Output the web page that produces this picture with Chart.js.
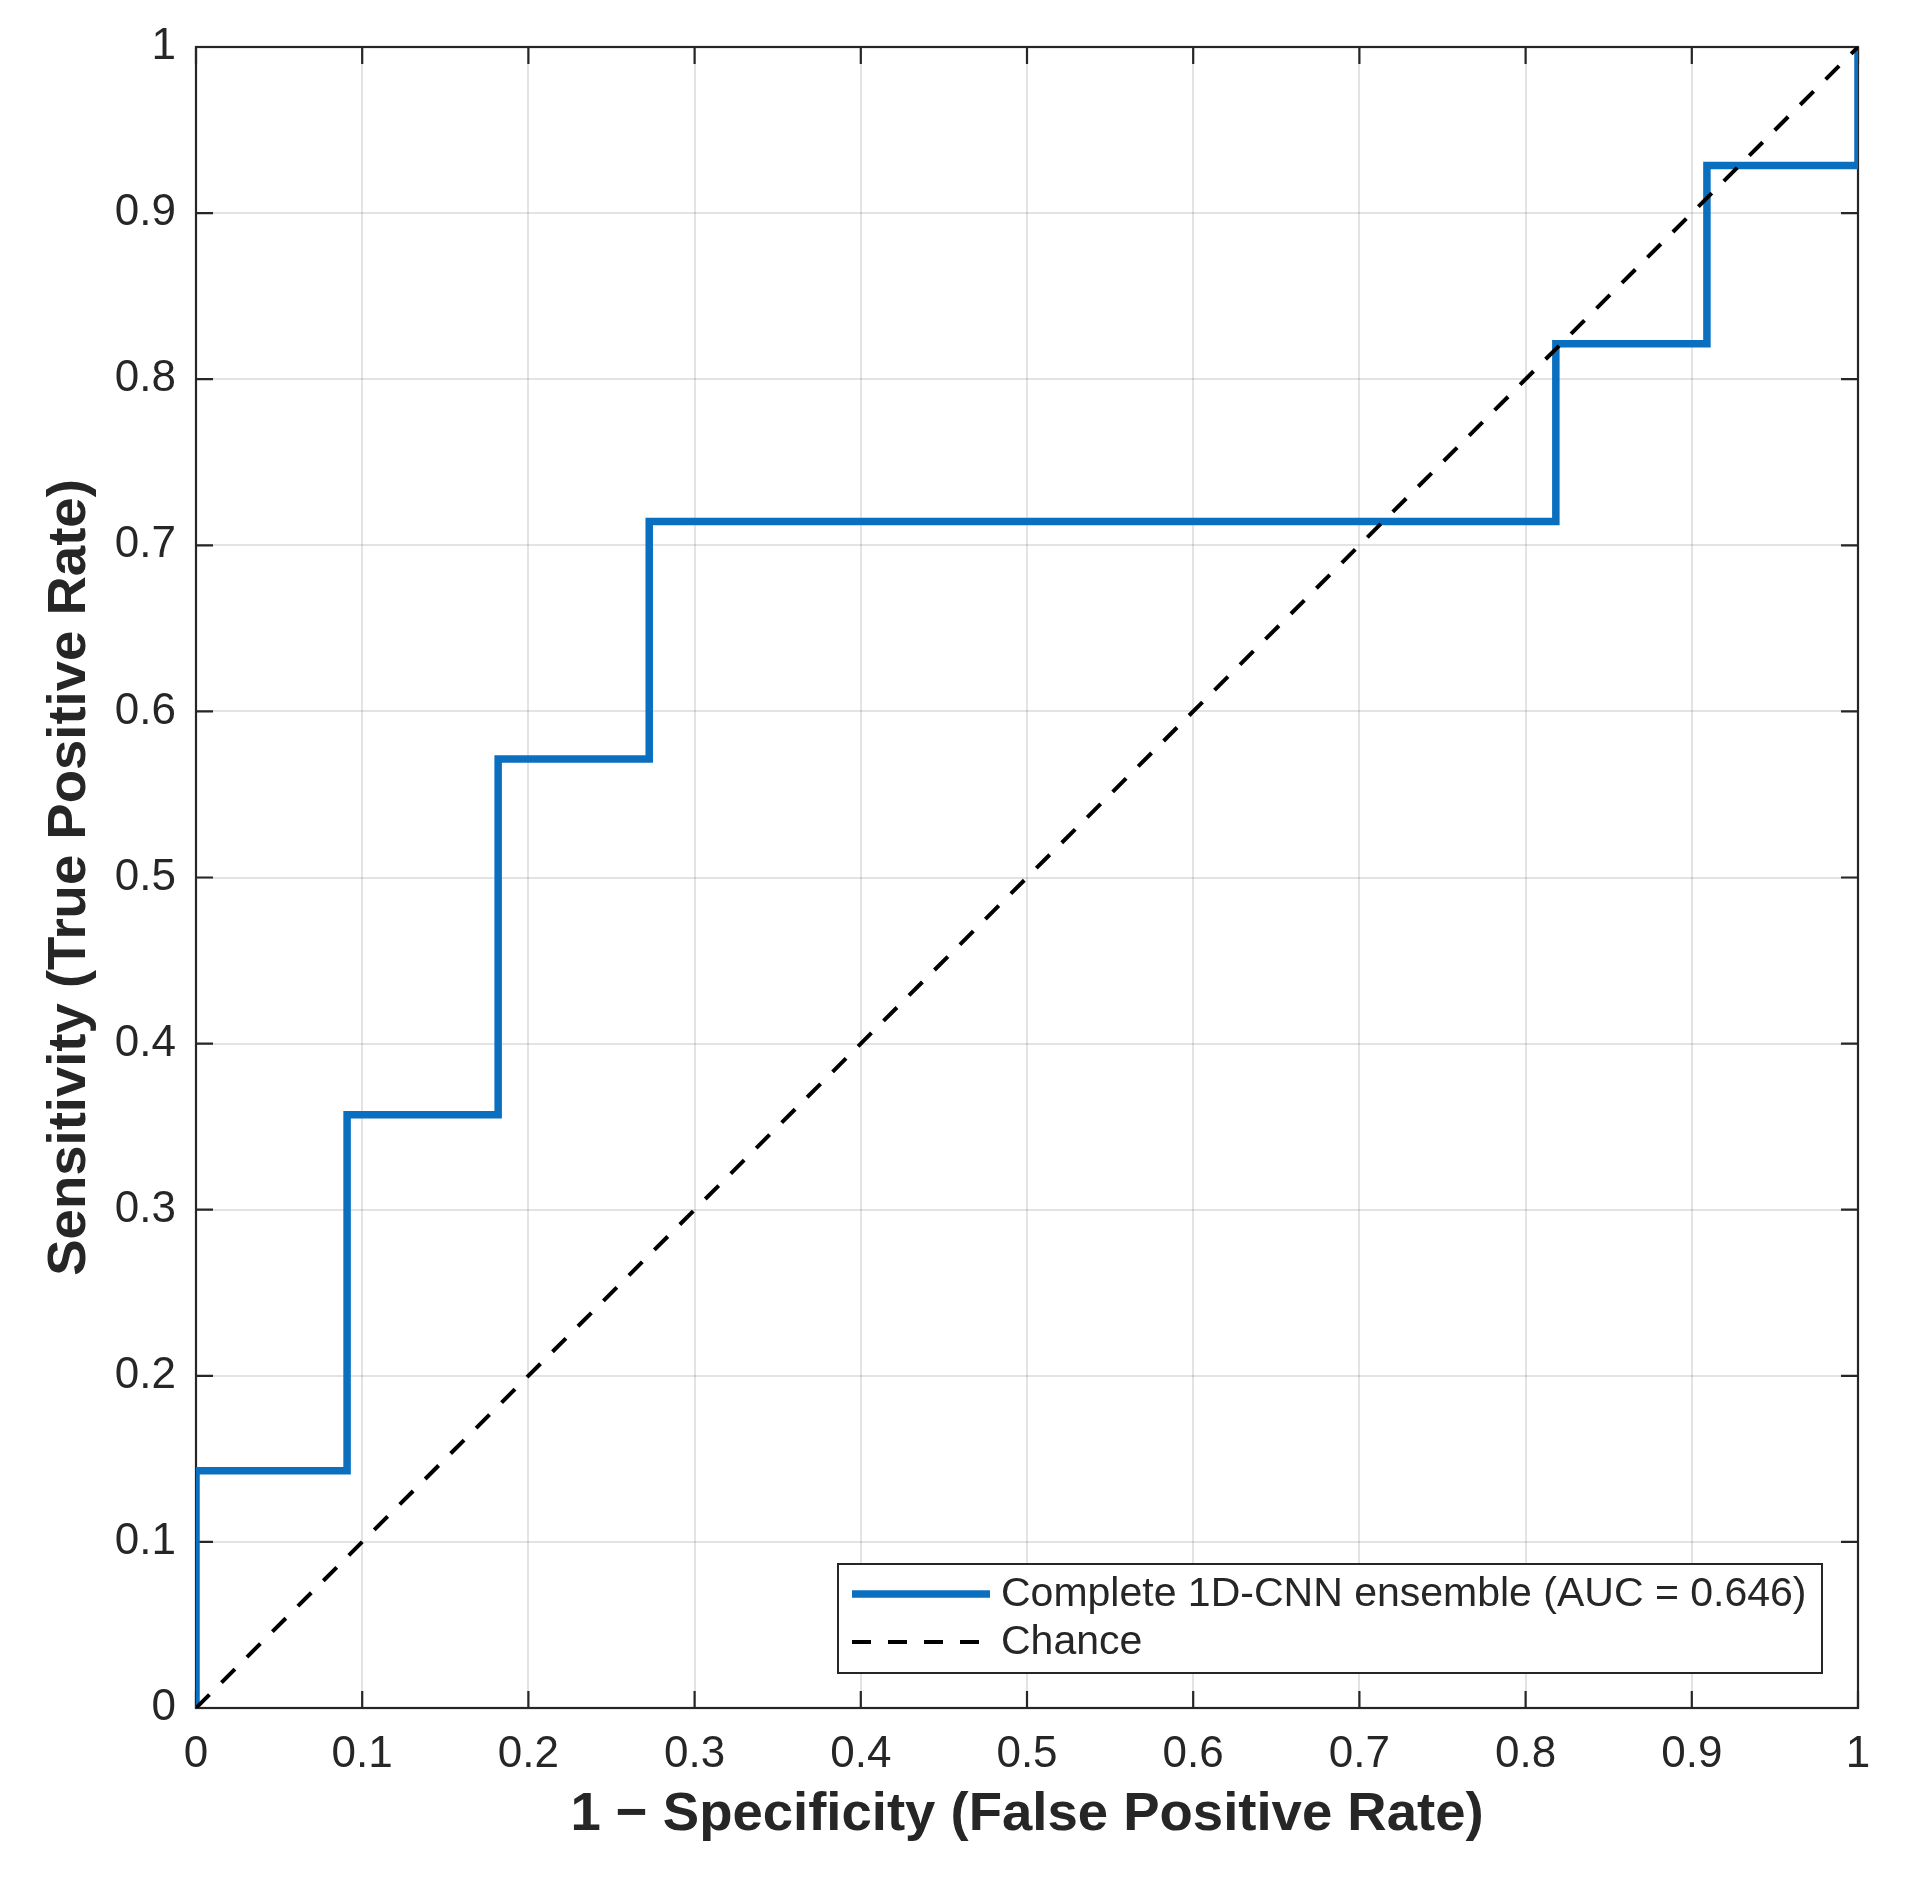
<!DOCTYPE html>
<html>
<head>
<meta charset="utf-8">
<script src="https://cdn.jsdelivr.net/npm/chart.js@4.4.1/dist/chart.umd.min.js"></script>
<style>
  html, body { margin: 0; padding: 0; background: #ffffff; }
  #wrap { width: 1909px; height: 1879px; }
</style>
</head>
<body>
<div id="wrap"><canvas id="c" width="1909" height="1879"></canvas></div>
<script>
// ---- Data ----
const rocLabel = 'Complete 1D-CNN ensemble (AUC = 0.646)';
const rocFpr = [0, 0, 0.0909, 0.0909, 0.1818, 0.1818, 0.2727, 0.2727, 0.8182, 0.8182, 0.9091, 0.9091, 1, 1];
const rocTpr = [0, 0.1429, 0.1429, 0.3571, 0.3571, 0.5714, 0.5714, 0.7143, 0.7143, 0.8214, 0.8214, 0.9286, 0.9286, 1];
const chanceLabel = 'Chance';
const chanceX = [0, 1];
const chanceY = [0, 1];
const xTickLabels = ['0', '0.1', '0.2', '0.3', '0.4', '0.5', '0.6', '0.7', '0.8', '0.9', '1'];
const yTickLabels = ['0', '0.1', '0.2', '0.3', '0.4', '0.5', '0.6', '0.7', '0.8', '0.9', '1'];
const xTitle = '1 \u2212 Specificity (False Positive Rate)';
const yTitle = 'Sensitivity (True Positive Rate)';

const AXIS = '#262626';
const FONT = "'Liberation Sans', Arial, Helvetica, sans-serif";

const toPoints = (xs, ys) => xs.map((x, i) => ({ x: x, y: ys[i] }));

const boxPlugin = {
  id: 'matlabBox',
  beforeDatasetsDraw(chart) {
    const { ctx, chartArea: a, scales } = chart;
    ctx.save();
    ctx.strokeStyle = AXIS;
    ctx.lineWidth = 2.2;
    ctx.strokeRect(a.left, a.top, a.right - a.left, a.bottom - a.top);
    const tl = 17;
    ctx.beginPath();
    scales.x.ticks.forEach(t => {
      const px = scales.x.getPixelForValue(t.value);
      ctx.moveTo(px, a.bottom); ctx.lineTo(px, a.bottom - tl);
      ctx.moveTo(px, a.top); ctx.lineTo(px, a.top + tl);
    });
    scales.y.ticks.forEach(t => {
      const py = scales.y.getPixelForValue(t.value);
      ctx.moveTo(a.left, py); ctx.lineTo(a.left + tl, py);
      ctx.moveTo(a.right, py); ctx.lineTo(a.right - tl, py);
    });
    ctx.stroke();
    ctx.restore();
  }
};

const legendPlugin = {
  id: 'boxLegend',
  afterDraw(chart) {
    const { ctx } = chart;
    const left = 838, top = 1564, right = 1822, bottom = 1673;
    ctx.save();
    ctx.fillStyle = '#ffffff';
    ctx.fillRect(left, top, right - left, bottom - top);
    ctx.strokeStyle = AXIS;
    ctx.lineWidth = 2;
    ctx.strokeRect(left, top, right - left, bottom - top);
    const rows = [chart.data.datasets[0], chart.data.datasets[1]];
    const rowY = [1594, 1642];
    ctx.font = '41px ' + FONT;
    ctx.textBaseline = 'middle';
    ctx.textAlign = 'left';
    rows.forEach((ds, i) => {
      ctx.beginPath();
      ctx.strokeStyle = ds.borderColor;
      ctx.lineWidth = ds.borderWidth;
      ctx.setLineDash(ds.borderDash || []);
      ctx.moveTo(852, rowY[i]);
      ctx.lineTo(990, rowY[i]);
      ctx.stroke();
      ctx.setLineDash([]);
      ctx.fillStyle = AXIS;
      ctx.fillText(ds.label, 1001, rowY[i] + 1);
    });
    ctx.restore();
  }
};

new Chart(document.getElementById('c'), {
  type: 'scatter',
  data: {
    datasets: [
      {
        label: rocLabel,
        data: toPoints(rocFpr, rocTpr),
        showLine: true,
        borderColor: '#0b6fc0',
        backgroundColor: '#0b6fc0',
        borderWidth: 7.5,
        pointRadius: 0,
        tension: 0,
        borderJoinStyle: 'miter',
        borderCapStyle: 'butt',
        clip: 0,
        order: 1
      },
      {
        label: chanceLabel,
        data: toPoints(chanceX, chanceY),
        showLine: true,
        borderColor: '#000000',
        backgroundColor: '#000000',
        borderWidth: 4,
        borderDash: [19, 17],
        pointRadius: 0,
        tension: 0,
        clip: 0,
        order: 0
      }
    ]
  },
  options: {
    responsive: false,
    animation: false,
    devicePixelRatio: 1,
    layout: { padding: { left: 0, top: 47, right: 51, bottom: 0 } },
    plugins: {
      legend: { display: false },
      tooltip: { enabled: false },
      title: { display: false }
    },
    scales: {
      x: {
        type: 'linear',
        min: 0, max: 1,
        afterFit(scale) { scale.height = 171; },
        border: { display: false },
        grid: { color: 'rgba(38,38,38,0.13)', lineWidth: 2, drawTicks: false },
        ticks: {
          stepSize: 0.1,
          padding: 20,
          maxRotation: 0,
          autoSkip: false,
          color: AXIS,
          font: { family: FONT, size: 44 },
          callback: (v, i) => xTickLabels[i]
        },
        title: {
          display: true,
          text: xTitle,
          color: AXIS,
          padding: { top: 0, bottom: 31 },
          font: { family: FONT, size: 54.5, weight: 'bold' }
        }
      },
      y: {
        type: 'linear',
        min: 0, max: 1,
        afterFit(scale) { scale.width = 196; },
        border: { display: false },
        grid: { color: 'rgba(38,38,38,0.13)', lineWidth: 2, drawTicks: false },
        ticks: {
          stepSize: 0.1,
          padding: 20,
          autoSkip: false,
          color: AXIS,
          font: { family: FONT, size: 44 },
          callback: (v, i) => yTickLabels[i]
        },
        title: {
          display: true,
          text: yTitle,
          color: AXIS,
          padding: { top: 37, bottom: 0 },
          font: { family: FONT, size: 54.5, weight: 'bold' }
        }
      }
    }
  },
  plugins: [boxPlugin, legendPlugin]
});
</script>
</body>
</html>
